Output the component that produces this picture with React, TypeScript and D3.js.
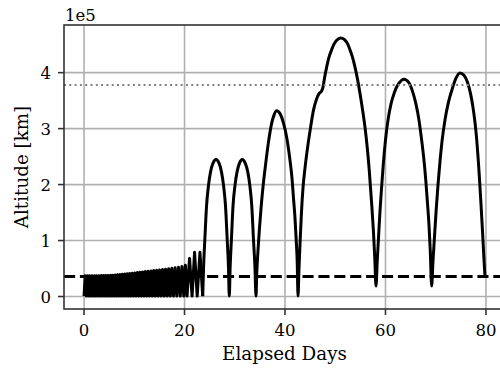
import React from "react";
import * as d3 from "d3";

// ---------- data ----------
// Phasing loops: perigee days, apogee days, apogee altitudes (km)
const phasingPerigeeDays = [
  0.0, 0.46, 0.92, 1.38, 1.84, 2.3, 2.76, 3.22, 3.68, 4.14, 4.6, 5.06, 5.52, 5.98,
  6.45, 6.92, 7.4, 7.88, 8.37, 8.86, 9.36, 9.86, 10.37, 10.89, 11.42, 11.95, 12.49,
  13.04, 13.6, 14.17, 14.75, 15.34, 15.94, 16.55, 17.17, 17.81, 18.47, 19.15, 19.85,
  20.5, 21.5, 22.52, 23.62,
];
const phasingApogeeDays = [
  0.23, 0.69, 1.15, 1.61, 2.07, 2.53, 2.99, 3.45, 3.91, 4.37, 4.83, 5.29, 5.75,
  6.21, 6.68, 7.16, 7.64, 8.12, 8.61, 9.11, 9.61, 10.11, 10.63, 11.15, 11.68, 12.22,
  12.76, 13.32, 13.88, 14.46, 15.04, 15.64, 16.24, 16.86, 17.49, 18.14, 18.81, 19.5,
  20.18, 21.0, 22.0, 23.07,
];
const phasingApogeeKm = [
  37000, 37000, 37100, 37100, 37200, 37200, 37300, 37400, 37500, 37600, 37700, 37900,
  38100, 38400, 38800, 39200, 39700, 40200, 40700, 41200, 41700, 42200, 42700, 43300,
  43900, 44500, 45100, 45700, 46300, 46900, 47500, 48200, 48900, 49700, 50500, 51400,
  52500, 53800, 56000, 68000, 79000, 79000,
];
const phasingPerigeeKm = 750;

// Lunar transfer arcs (day, altitude km)
const transferDays = [
  23.62, 23.8, 24.04, 24.38, 24.78, 25.17, 25.67, 26.27, 26.87, 27.36, 27.76, 28.16, 28.5, 28.74, 28.91,
  29.09, 29.33, 29.65, 30.05, 30.45, 30.94, 31.5, 32.08, 32.6, 32.99, 33.39, 33.73, 34.01, 34.23,
  34.39, 34.63, 34.92, 35.28, 35.68, 36.12, 36.68, 37.31, 37.81, 38.35, 39.0, 39.7, 40.4, 40.99,
  41.39, 41.69, 41.99, 42.23, 42.43, 42.59,
  42.79, 43.02, 43.28, 43.58, 43.98, 44.48, 45.07, 45.67, 46.27, 46.77, 47.3, 47.56, 47.86, 48.3,
  48.76, 49.29, 49.75, 50.29, 51.08, 51.84, 52.44, 52.93, 53.43, 53.93, 54.43, 54.92, 55.42, 55.92,
  56.32, 56.72, 57.01, 57.31, 57.61, 57.87, 58.11,
  58.37, 58.63, 58.92, 59.26, 59.6, 60.0, 60.5, 61.09, 61.79, 62.69, 63.68, 64.58, 65.37, 66.07,
  66.67, 67.2, 67.66, 68.02, 68.36, 68.66, 68.91, 69.19,
  69.45, 69.75, 70.09, 70.45, 70.84, 71.28, 71.84, 72.54, 73.33, 74.03, 74.82, 75.62, 76.32, 76.91,
  77.41, 77.81, 78.17, 78.47, 78.73, 79.0, 79.3, 79.56, 79.8,
];
const transferAltKm = [
  750, 54500, 100900, 161600, 199100, 222300, 238400, 245000, 238400, 222300, 199100, 161600, 100900, 54500, 750,
  54500, 100900, 161600, 199100, 222300, 238400, 245000, 238400, 222300, 199100, 161600, 100900, 54500, 750,
  43700, 83000, 122300, 163400, 200900, 234800, 274100, 308000, 324100, 331800, 326800, 309800, 281200, 243700,
  211600, 175900, 140200, 100900, 61600, 750,
  50900, 100900, 150900, 193700, 229500, 265200, 300900, 333000, 352700, 362500, 367500, 374100, 390200, 410400,
  427700, 441100, 450900, 458000, 462100, 458900, 451800, 441100, 427700, 409800, 388400, 363400, 334800, 302700,
  270500, 231200, 195500, 158000, 115200, 68700, 18750,
  65200, 108000, 154500, 199100, 240200, 279500, 315200, 343700, 365200, 381200, 388400, 383000, 367000, 343700,
  315200, 279500, 243700, 208000, 167000, 127700, 83000, 18750,
  61600, 106200, 154500, 199100, 240200, 279500, 315200, 347300, 372300, 390200, 399600, 395500, 383000, 363400,
  338400, 311600, 279500, 243700, 208000, 167000, 118700, 74100, 35786,
];

const geoAltKm = 35786;
const moonAltKm = 378000;

const xTicks = [0, 20, 40, 60, 80];
const yTicks = [0, 100000, 200000, 300000, 400000];
const yTickLabels = ["0", "1", "2", "3", "4"];
const yOffsetText = "1e5";
const xLabel = "Elapsed Days";
const yLabel = "Altitude [km]";

// ---------- layout ----------
const W = 500;
const H = 369;
const L = 64;
const R = 505;
const T = 25;
const B = 309;
const FONT = "'DejaVu Serif', serif";
const FS = 16.5;
const FS_LABEL = 18.3;

export default function App() {
  const phasing: [number, number][] = [];
  phasingApogeeDays.forEach((d, i) => {
    phasing.push([phasingPerigeeDays[i], phasingPerigeeKm]);
    phasing.push([d, phasingApogeeKm[i]]);
  });
  phasing.push([phasingPerigeeDays[phasingPerigeeDays.length - 1], phasingPerigeeKm]);
  const transfer: [number, number][] = transferDays.map((d, i) => [d, transferAltKm[i]]);

  const allX = [...phasing.map((p) => p[0]), ...transfer.map((p) => p[0])];
  const allY = [...phasing.map((p) => p[1]), ...transfer.map((p) => p[1])];
  const [x0, x1] = d3.extent(allX) as [number, number];
  const [y0, y1] = d3.extent(allY) as [number, number];
  const xm = (x1 - x0) * 0.05;
  const ym = (y1 - y0) * 0.05;

  const x = d3.scaleLinear().domain([x0 - xm, x1 + xm]).range([L, R]);
  const y = d3.scaleLinear().domain([y0 - ym, y1 + ym]).range([B, T]);

  const linearLine = d3
    .line<[number, number]>()
    .x((d) => x(d[0]))
    .y((d) => y(d[1]))
    .curve(d3.curveLinear);
  const smoothLine = d3
    .line<[number, number]>()
    .x((d) => x(d[0]))
    .y((d) => y(d[1]))
    .curve(d3.curveMonotoneX);

  return (
    <div style={{ position: "fixed", left: 0, top: 0, width: W, height: H, background: "#fff" }}>
      <svg width={W} height={H} style={{ display: "block" }} fontFamily={FONT}>
        <defs>
          <clipPath id="plotClip">
            <rect x={L} y={T} width={R - L} height={B - T} />
          </clipPath>
        </defs>
        <rect x={0} y={0} width={W} height={H} fill="#fff" />
        {/* grid */}
        <g stroke="#b0b0b0" strokeWidth={1.6}>
          {xTicks.map((t) => (
            <line key={"gx" + t} x1={x(t)} x2={x(t)} y1={T} y2={B} />
          ))}
          {yTicks.map((t) => (
            <line key={"gy" + t} x1={L} x2={R} y1={y(t)} y2={y(t)} />
          ))}
        </g>
        <g clipPath="url(#plotClip)">
          <path
            d={linearLine(phasing) || ""}
            fill="none"
            stroke="#000"
            strokeWidth={3}
            strokeLinejoin="round"
          />
          <path
            d={smoothLine(transfer) || ""}
            fill="none"
            stroke="#000"
            strokeWidth={3}
            strokeLinejoin="round"
          />
          <line
            x1={L}
            x2={R}
            y1={y(geoAltKm)}
            y2={y(geoAltKm)}
            stroke="#000"
            strokeWidth={3}
            strokeDasharray="11.1 4.8"
          />
          <line
            x1={L}
            x2={R}
            y1={y(moonAltKm)}
            y2={y(moonAltKm)}
            stroke="#808080"
            strokeWidth={2}
            strokeDasharray="2 3.3"
          />
        </g>
        {/* spines */}
        <rect x={L} y={T} width={R - L} height={B - T} fill="none" stroke="#333" strokeWidth={1.6} />
        {/* x ticks */}
        {xTicks.map((t) => (
          <g key={"xt" + t}>
            <line x1={x(t)} x2={x(t)} y1={B} y2={B + 6} stroke="#333" strokeWidth={1.6} />
            <text x={x(t)} y={335.5} textAnchor="middle" fontSize={FS} fill="#000">
              {t}
            </text>
          </g>
        ))}
        {yTicks.map((t, i) => (
          <g key={"yt" + t}>
            <line x1={L - 6} x2={L} y1={y(t)} y2={y(t)} stroke="#333" strokeWidth={1.6} />
            <text x={51} y={y(t) + 6} textAnchor="end" fontSize={FS} fill="#000">
              {yTickLabels[i]}
            </text>
          </g>
        ))}
        <text x={L + 1} y={20.5} fontSize={FS} fill="#000">
          {yOffsetText}
        </text>
        <text x={(L + R) / 2} y={360} textAnchor="middle" fontSize={FS_LABEL} fill="#000">
          {xLabel}
        </text>
        <text
          transform={`translate(28,${(T + B) / 2}) rotate(-90)`}
          textAnchor="middle"
          fontSize={FS_LABEL}
          fill="#000"
        >
          {yLabel}
        </text>
      </svg>
    </div>
  );
}
